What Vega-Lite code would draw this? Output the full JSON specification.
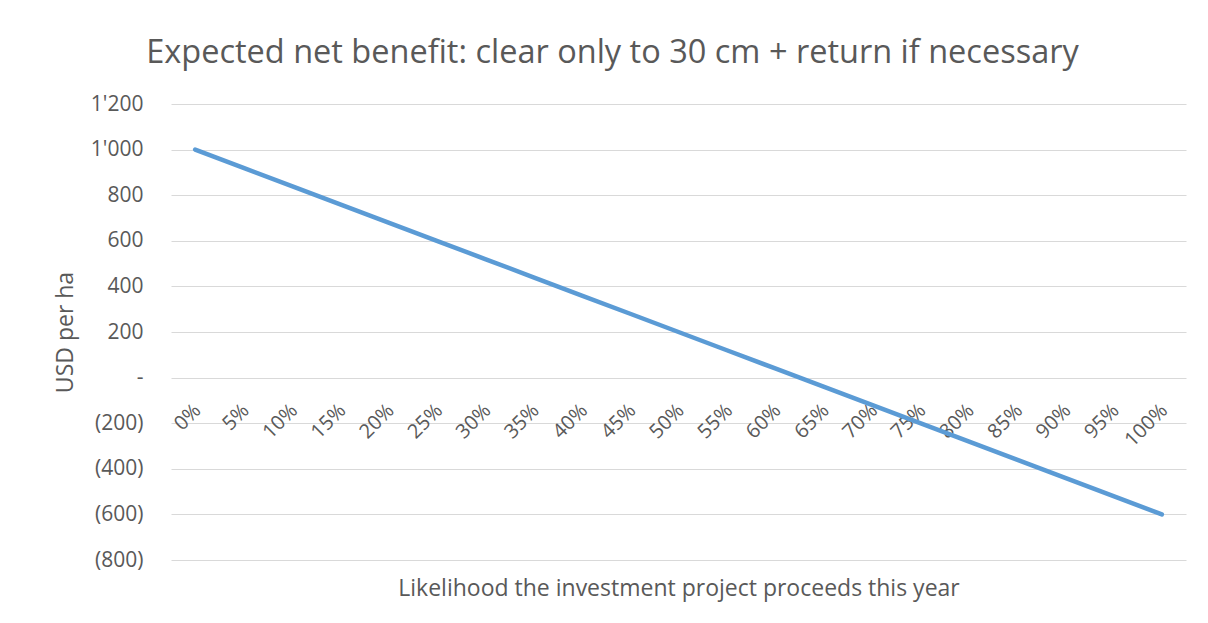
{
  "$schema": "https://vega.github.io/schema/vega-lite/v6.json",
  "autosize": {"type": "none"},
  "width": 1015,
  "height": 456,
  "padding": {"left": 171, "top": 104, "right": 22, "bottom": 63},
  "background": "white",
  "title": {
    "text": "Expected net benefit: clear only to 30 cm + return if necessary",
    "font": "Open Sans",
    "fontSize": 32.5,
    "fontWeight": "normal",
    "color": "#595959",
    "anchor": "middle",
    "frame": "group",
    "dx": -66,
    "offset": 24
  },
  "data": {
    "values": [
      {"p": "0%", "v": 1000},
      {"p": "5%", "v": 920},
      {"p": "10%", "v": 840},
      {"p": "15%", "v": 760},
      {"p": "20%", "v": 680},
      {"p": "25%", "v": 600},
      {"p": "30%", "v": 520},
      {"p": "35%", "v": 440},
      {"p": "40%", "v": 360},
      {"p": "45%", "v": 280},
      {"p": "50%", "v": 200},
      {"p": "55%", "v": 120},
      {"p": "60%", "v": 40},
      {"p": "65%", "v": -40},
      {"p": "70%", "v": -120},
      {"p": "75%", "v": -200},
      {"p": "80%", "v": -280},
      {"p": "85%", "v": -360},
      {"p": "90%", "v": -440},
      {"p": "95%", "v": -520},
      {"p": "100%", "v": -600}
    ]
  },
  "mark": {"type": "line", "color": "#5B9BD5", "strokeWidth": 4.5, "strokeCap": "round", "strokeJoin": "round"},
  "encoding": {
    "x": {
      "field": "p",
      "type": "ordinal",
      "sort": null,
      "scale": {"type": "point", "padding": 0.5},
      "axis": {
        "title": "Likelihood the investment project proceeds this year",
        "titleFont": "Open Sans",
        "titleFontSize": 23,
        "titleFontWeight": "normal",
        "titleColor": "#595959",
        "titleY": 209,
        "titleBaseline": "middle",
        "offset": -181,
        "domain": false,
        "ticks": false,
        "grid": false,
        "labelAngle": -45,
        "labelFont": "Open Sans",
        "labelFontSize": 20,
        "labelColor": "#595959",
        "labelPadding": 21,
        "labelOffset": -5
      }
    },
    "y": {
      "field": "v",
      "type": "quantitative",
      "scale": {"domain": [-800, 1200], "nice": false, "zero": false},
      "axis": {
        "title": "USD per ha",
        "titleFont": "Open Sans",
        "titleFontSize": 23,
        "titleFontWeight": "normal",
        "titleColor": "#595959",
        "titleX": -106,
        "titleY": 228,
        "titleAngle": -90,
        "titleAlign": "center",
        "titleBaseline": "middle",
        "values": [-800, -600, -400, -200, 0, 200, 400, 600, 800, 1000, 1200],
        "labelExpr": "datum.value == 0 ? '-' : (datum.value < 0 ? '(' + format(-datum.value, ',') + ')' : replace(format(datum.value, ','), ',', \"'\"))",
        "domain": false,
        "ticks": false,
        "grid": true,
        "gridColor": "#D9D9D9",
        "gridWidth": 1,
        "labelFont": "Open Sans",
        "labelFontSize": 21,
        "labelColor": "#595959",
        "labelPadding": 28
      }
    }
  },
  "config": {"view": {"stroke": null}}
}
